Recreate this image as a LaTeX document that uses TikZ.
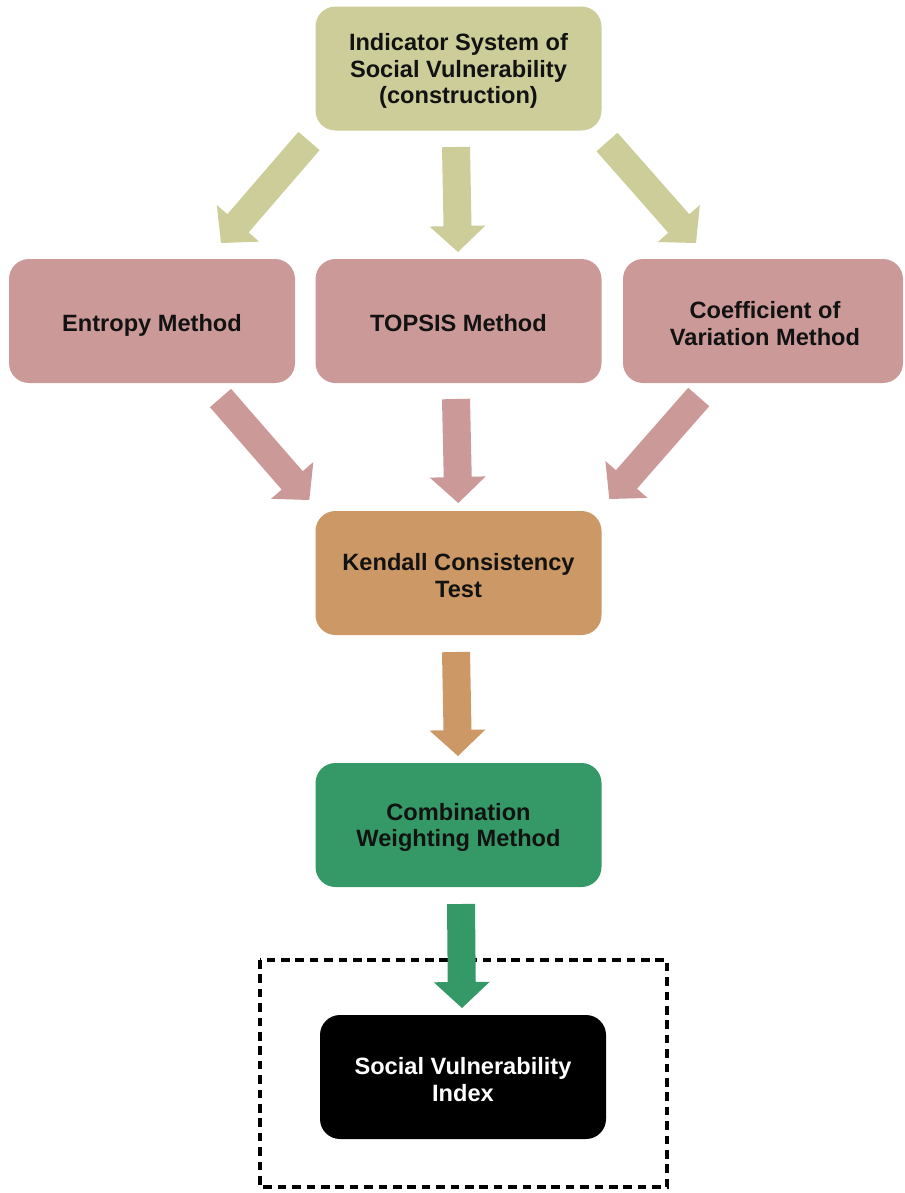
\documentclass[tikz,border=0pt]{standalone}
\usepackage{fontspec}
\setmainfont{Liberation Sans}
\usetikzlibrary{calc}
\definecolor{khaki}{RGB}{205,205,153}
\definecolor{rose}{RGB}{204,153,153}
\definecolor{tan}{RGB}{204,153,102}
\definecolor{sea}{RGB}{52,153,102}
\newcommand{\blockarrow}[3]{%
  \fill[#3] ($(#1)!10.5pt!90:(#2)$) -- ($($(#2)!19.5pt!(#1)$)!10.5pt!90:(#2)$)
    -- ($($(#2)!19.5pt!(#1)$)!21pt!90:(#2)$) -- (#2)
    -- ($($(#2)!19.5pt!(#1)$)!21pt!-90:(#2)$)
    -- ($($(#2)!19.5pt!(#1)$)!10.5pt!-90:(#2)$)
    -- ($(#1)!10.5pt!-90:(#2)$) -- cycle;}
\tikzset{
  box/.style={rounded corners=15pt, minimum width=214.5pt, minimum height=93pt, inner sep=0pt},
  lbl/.style={align=center, inner sep=0pt, yshift=-2pt,
    font=\fontsize{17.7}{19.9}\selectfont\bfseries, text=black!93},
  lbl1/.style={lbl, text height=12.7pt, text depth=3.7pt, yshift=-1pt},
}
\begin{document}
\begin{tikzpicture}[x=0.75pt,y=-0.75pt]
\useasboundingbox (0,0) rectangle (904,1193);
\node[box, fill=khaki, label={[lbl]center:{Indicator System of\\Social Vulnerability\\(construction)}}] (top) at (458.5,68.5) {};
\node[box, fill=rose, label={[lbl1]center:{Entropy Method}}] (ent) at (152,321) {};
\node[box, fill=rose, label={[lbl1]center:{TOPSIS Method}}] (tps) at (458.5,321) {};
\node[box, fill=rose, minimum width=210pt, label={[lbl,xshift=1.5pt]center:{Coefficient of\\Variation Method}}] (cv) at (763,321) {};
\node[box, fill=tan, label={[lbl]center:{Kendall Consistency\\Test}}] (ken) at (458.5,573) {};
\node[box, fill=sea, label={[lbl]center:{Combination\\Weighting Method}}] (comb) at (458.5,825) {};
\node[box, fill=black, label={[lbl,text=white]center:{Social Vulnerability\\Index}}] (svi) at (463,1077) {};
\draw[line width=2.7pt, dash pattern=on 6.5pt off 4.3pt] (260,960) rectangle (667,1187);
% arrow end points
\coordinate (a1s) at (309,141); \coordinate (a1e) at (221,243);
\coordinate (a2s) at (456,147); \coordinate (a2e) at (458,252);
\coordinate (a3s) at (607,142); \coordinate (a3e) at (696,243);
\coordinate (b1s) at (220.5,398); \coordinate (b1e) at (309.3,500);
\coordinate (b2s) at (456,399); \coordinate (b2e) at (458.3,503);
\coordinate (b3s) at (698.7,397); \coordinate (b3e) at (609.3,499);
\coordinate (c1s) at (456,652); \coordinate (c1e) at (458,756);
\coordinate (d1s) at (461,904); \coordinate (d1e) at (462,1008);
\blockarrow{a1s}{a1e}{khaki}
\blockarrow{a2s}{a2e}{khaki}
\blockarrow{a3s}{a3e}{khaki}
\blockarrow{b1s}{b1e}{rose}
\blockarrow{b2s}{b2e}{rose}
\blockarrow{b3s}{b3e}{rose}
\blockarrow{c1s}{c1e}{tan}
\blockarrow{d1s}{d1e}{sea}
\end{tikzpicture}
\end{document}
